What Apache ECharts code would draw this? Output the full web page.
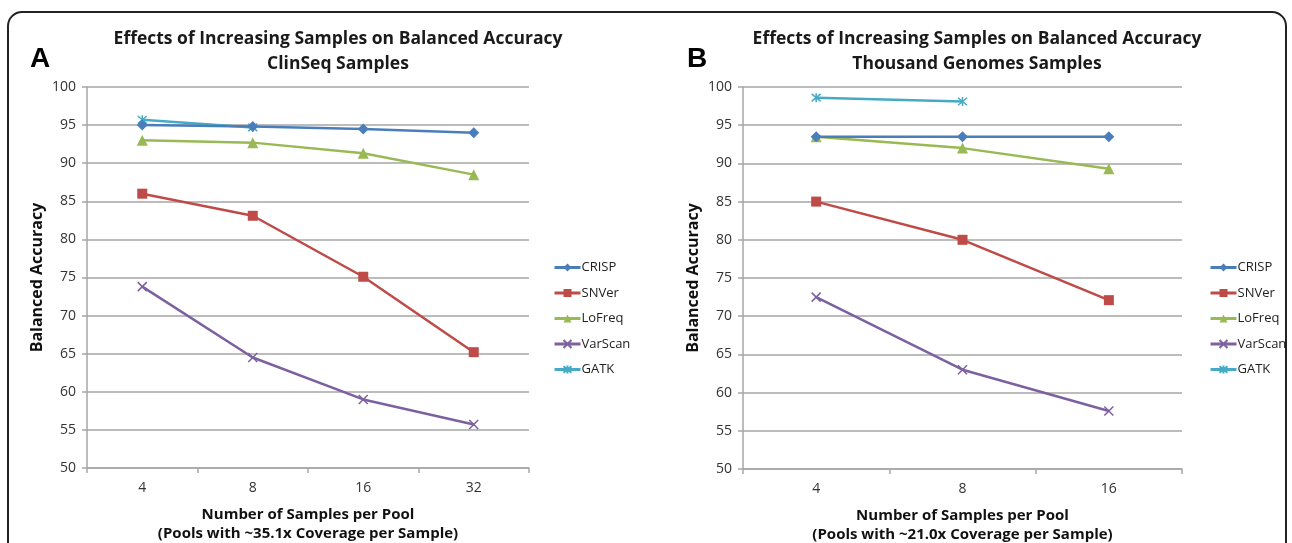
<!DOCTYPE html>
<html>
<head>
<meta charset="utf-8">
<script src="https://cdn.jsdelivr.net/npm/echarts@6/dist/echarts.min.js"></script>
<style>
  html, body { margin: 0; padding: 0; background: #fff; }
  #chart { width: 1292px; height: 543px; }
</style>
</head>
<body>
<div id="chart"></div>
<script>
// panel A: ClinSeq samples
const categoriesA = ["4", "8", "16", "32"];
const crispA = [95.0, 94.8, 94.5, 94.0];
const snverA = [86.0, 83.1, 75.1, 65.2];
const lofreqA = [93.0, 92.7, 91.3, 88.5];
const varscanA = [73.8, 64.5, 59.0, 55.7];
const gatkA = [95.7, 94.7, null, null];

// panel B: Thousand Genomes samples
const categoriesB = ["4", "8", "16"];
const crispB = [93.5, 93.5, 93.5];
const snverB = [85.0, 80.0, 72.1];
const lofreqB = [93.5, 92.0, 89.3];
const varscanB = [72.5, 63.0, 57.6];
const gatkB = [98.6, 98.1, null];

const seriesNames = ["CRISP", "SNVer", "LoFreq", "VarScan", "GATK"];
const colors = ["#4a7ebb", "#be4b48", "#98b954", "#7d60a0", "#46aac5"];
const symbols = [
  "diamond",
  "rect",
  "triangle",
  "path://M0,0L10,10M10,0L0,10",
  "path://M0,0L10,10M10,0L0,10M5,-1L5,11"
];
const symbolSizes = [11, 10, 11, 9, 9];

const FONT = "'Open Sans', 'Noto Sans', sans-serif";
const GRAY = "#a6a6a6";

const chart = echarts.init(document.getElementById("chart"));

const makeSeries = (data, idx, gridIdx) => ({
  name: seriesNames[idx],
  type: "line",
  xAxisIndex: gridIdx,
  yAxisIndex: gridIdx,
  data,
  symbol: symbols[idx],
  symbolSize: symbolSizes[idx],
  connectNulls: false,
  lineStyle: { color: colors[idx], width: 2.5 },
  itemStyle: {
    color: colors[idx],
    borderColor: colors[idx],
    borderWidth: idx >= 3 ? 1.5 : 0
  },
  emphasis: { disabled: true },
  z: 10 - idx
});

const xAxisFor = (cats, gridIdx) => ({
  type: "category",
  gridIndex: gridIdx,
  data: cats,
  boundaryGap: true,
  axisLine: { lineStyle: { color: GRAY, width: 1.5 } },
  axisTick: { show: true, length: 5, lineStyle: { color: GRAY, width: 1.5 } },
  axisLabel: { color: "#333", fontSize: 14, fontFamily: FONT, margin: 13 },
  name: "Number of Samples per Pool\n" +
    (gridIdx === 0 ? "(Pools with ~35.1x Coverage per Sample)" : "(Pools with ~21.0x Coverage per Sample)"),
  nameLocation: "middle",
  nameGap: 37,
  nameTextStyle: { color: "#111", fontSize: 15, fontWeight: "bold", fontFamily: FONT, lineHeight: 19 }
});

const yAxisFor = (gridIdx) => ({
  type: "value",
  gridIndex: gridIdx,
  min: 50,
  max: 100,
  interval: 5,
  axisLine: { show: true, lineStyle: { color: GRAY, width: 1.5 } },
  axisTick: { show: true, length: 5, lineStyle: { color: GRAY, width: 1.5 } },
  axisLabel: { color: "#333", fontSize: 14, fontFamily: FONT, margin: 11 },
  splitLine: { lineStyle: { color: GRAY, width: 1.5 } },
  name: "Balanced Accuracy",
  nameLocation: "middle",
  nameRotate: 90,
  nameGap: 42,
  nameTextStyle: { color: "#111", fontSize: 16, fontWeight: "bold", fontFamily: FONT }
});

const legendFor = (left) => ({
  orient: "vertical",
  left,
  top: 256,
  itemWidth: 26,
  itemHeight: 10,
  itemGap: 12.5,
  data: seriesNames,
  lineStyle: { width: 3 },
  textStyle: { color: "#222", fontSize: 13, fontFamily: FONT, padding: [0, 0, 0, -4] },
  selectedMode: false
});

const titleFor = (text, left) => ({
  text,
  left,
  top: 22,
  textAlign: "center",
  textStyle: { color: "#1a1a1a", fontSize: 17.5, fontWeight: "bold", fontFamily: FONT, lineHeight: 25 }
});

chart.setOption({
  animation: false,
  backgroundColor: "#fff",
  title: [
    titleFor("Effects of Increasing Samples on Balanced Accuracy\nClinSeq Samples", 333),
    titleFor("Effects of Increasing Samples on Balanced Accuracy\nThousand Genomes Samples", 972)
  ],
  grid: [
    { left: 87, top: 87, width: 442, height: 381, outerBoundsMode: "none" },
    { left: 743, top: 87, width: 439, height: 382, outerBoundsMode: "none" }
  ],
  legend: [legendFor(548), legendFor(1204)],
  xAxis: [xAxisFor(categoriesA, 0), xAxisFor(categoriesB, 1)],
  yAxis: [yAxisFor(0), yAxisFor(1)],
  series: [
    makeSeries(crispA, 0, 0),
    makeSeries(snverA, 1, 0),
    makeSeries(lofreqA, 2, 0),
    makeSeries(varscanA, 3, 0),
    makeSeries(gatkA, 4, 0),
    makeSeries(crispB, 0, 1),
    makeSeries(snverB, 1, 1),
    makeSeries(lofreqB, 2, 1),
    makeSeries(varscanB, 3, 1),
    makeSeries(gatkB, 4, 1)
  ],
  graphic: [
    {
      type: "rect",
      shape: { x: 8, y: 12, width: 1278, height: 620, r: 14 },
      style: { fill: "none", stroke: "#222", lineWidth: 2 },
      silent: true
    },
    {
      type: "text",
      left: 30,
      top: 45,
      style: { text: "A", fill: "#000", font: "bold 28px 'Liberation Sans', Arial, sans-serif" }
    },
    {
      type: "text",
      left: 687,
      top: 45,
      style: { text: "B", fill: "#000", font: "bold 28px 'Liberation Sans', Arial, sans-serif" }
    }
  ]
});
</script>
</body>
</html>
